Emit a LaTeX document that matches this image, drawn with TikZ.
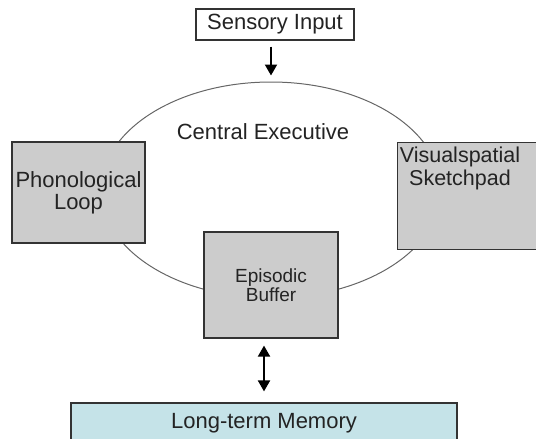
\documentclass[tikz,border=0pt]{standalone}
\usepackage{fontspec}
\setmainfont{Liberation Sans}
\usetikzlibrary{shapes.geometric,arrows.meta,calc}
\definecolor{boxgray}{RGB}{204,204,204}
\definecolor{ltmblue}{RGB}{197,227,232}
\definecolor{txtgray}{RGB}{35,35,35}

\begin{document}
\begin{tikzpicture}[x=0.5pt,y=-0.5pt,
  gbox/.style={draw=black!80,fill=boxgray,line width=0.6pt,inner sep=0pt},
  lbl/.style={text=txtgray,align=center,font=\fontsize{11}{11}\selectfont},
  arr/.style={line width=1pt,-{Triangle[width=6pt,length=5.5pt]}},
  darr/.style={line width=1pt,{Triangle[width=6pt,length=5.5pt]}-{Triangle[width=6pt,length=5.5pt]}}]
\useasboundingbox (0,0) rectangle (536,439);
\clip (0,0) rectangle (536,439);

\node[ellipse,draw=black!60,line width=0.5pt,minimum width=170pt,minimum height=108pt,inner sep=0pt] (ce) at (271,190) {};
\node[lbl] (celabel) at (263,132) {Central Executive};

\node[draw=black!80,line width=0.6pt,lbl,minimum width=79pt,minimum height=15.5pt,inner sep=0pt] (sensory) at (275,24.5) {Sensory Input};

\node[gbox,lbl,minimum width=66.5pt,minimum height=50.5pt] (phon) at (78.5,192.5) {Phonological\\Loop};
\node[gbox,minimum width=80pt,minimum height=53.5pt,anchor=north west] (visu) at (397,142) {};
\node[lbl,font=\fontsize{10.75}{10}\selectfont,anchor=north,inner sep=0pt] (visutext) at (460,147) {Visualspatial\\Sketchpad};
\node[gbox,lbl,font=\fontsize{9.5}{9.5}\selectfont,minimum width=67pt,minimum height=53pt] (epis) at (271,285) {Episodic\\Buffer};

\node[draw=black!80,fill=ltmblue,line width=0.6pt,lbl,minimum width=193pt,minimum height=20pt,inner sep=0pt] (ltm) at (264,423) {Long-term Memory};

\draw[arr] ($(sensory.south -| ce.north)+(0,6)$) -- ($(ce.north)+(0,-6)$);
\draw[darr] ($(epis.south -| ltm.north)+(0,7)$) -- ($(ltm.north)+(0,-11)$);
\end{tikzpicture}
\end{document}
